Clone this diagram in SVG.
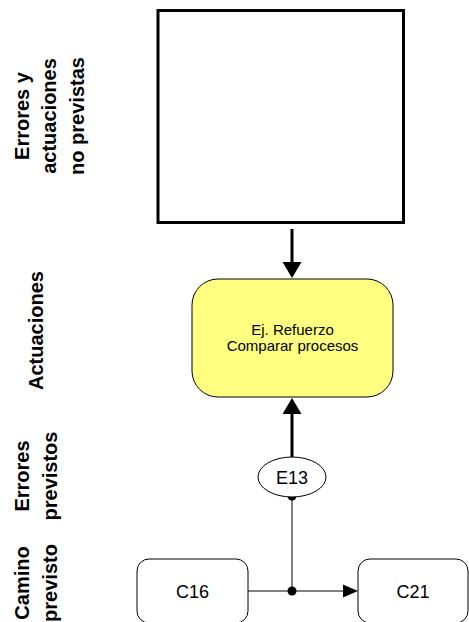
<svg xmlns="http://www.w3.org/2000/svg" width="469" height="622" viewBox="0 0 469 622">
<style>
.lbl{font-family:"Liberation Sans",Arial,sans-serif;font-weight:bold;font-size:20px;fill:#000;text-anchor:middle}
.txt{font-family:"Liberation Sans",Arial,sans-serif;fill:#000;text-anchor:middle}
.box{fill:#fff;stroke:#000;stroke-width:1}
.thick{stroke:#000;stroke-width:3;fill:none}
.thin{stroke:#000;stroke-width:1;fill:none}
</style>
<rect x="0" y="0" width="469" height="622" fill="#fff"/>
<g id="lane-labels">
  <text class="lbl" transform="rotate(-90)"><tspan x="-116" y="29">Errores y</tspan><tspan x="-116" y="56">actuaciones</tspan><tspan x="-116" y="84">no previstas</tspan></text>
  <text class="lbl" transform="rotate(-90)" x="-330.5" y="43">Actuaciones</text>
  <text class="lbl" transform="rotate(-90)"><tspan x="-476" y="29">Errores</tspan><tspan x="-476" y="57">previstos</tspan></text>
  <text class="lbl" transform="rotate(-90)"><tspan x="-583" y="29">Camino</tspan><tspan x="-583" y="57">previsto</tspan></text>
</g>
<g id="connectors">
  <line class="thick" x1="292" y1="229" x2="292" y2="263"/>
  <polygon points="282.5,262 301.5,262 292,278" fill="#000"/>
  <line class="thick" x1="292" y1="457" x2="292" y2="413"/>
  <polygon points="282.5,414 301.5,414 292,398" fill="#000"/>
  <line class="thin" x1="292" y1="496" x2="292" y2="591"/>
  <line class="thin" x1="248" y1="591" x2="344" y2="591"/>
  <polygon points="343,584.5 343,597.5 358,591" fill="#000"/>
  <circle cx="292" cy="496" r="4.5" fill="#000"/>
  <circle cx="292" cy="591" r="4.5" fill="#000"/>
</g>
<g id="errores-box">
  <rect x="158" y="10.5" width="245.5" height="212" fill="#fff" stroke="#000" stroke-width="3"/>
</g>
<g id="refuerzo">
  <rect x="192" y="279" width="201" height="118" rx="26" ry="26" fill="#ffff80" stroke="#000" stroke-width="1"/>
  <text class="txt" style="font-size:15px"><tspan x="292.5" y="334.5">Ej. Refuerzo</tspan><tspan x="292.5" y="350.5">Comparar procesos</tspan></text>
</g>
<g id="E13">
  <ellipse cx="292" cy="477" rx="34" ry="20" fill="#fff" stroke="#000" stroke-width="1"/>
  <text class="txt" style="font-size:18px" x="292" y="483.5">E13</text>
</g>
<g id="C16">
  <rect class="box" x="137" y="559" width="111" height="64" rx="12" ry="12"/>
  <text class="txt" style="font-size:18px" x="192.5" y="597.5">C16</text>
</g>
<g id="C21">
  <rect class="box" x="358" y="559" width="110" height="64" rx="12" ry="12"/>
  <text class="txt" style="font-size:18px" x="413" y="597.5">C21</text>
</g>
</svg>
